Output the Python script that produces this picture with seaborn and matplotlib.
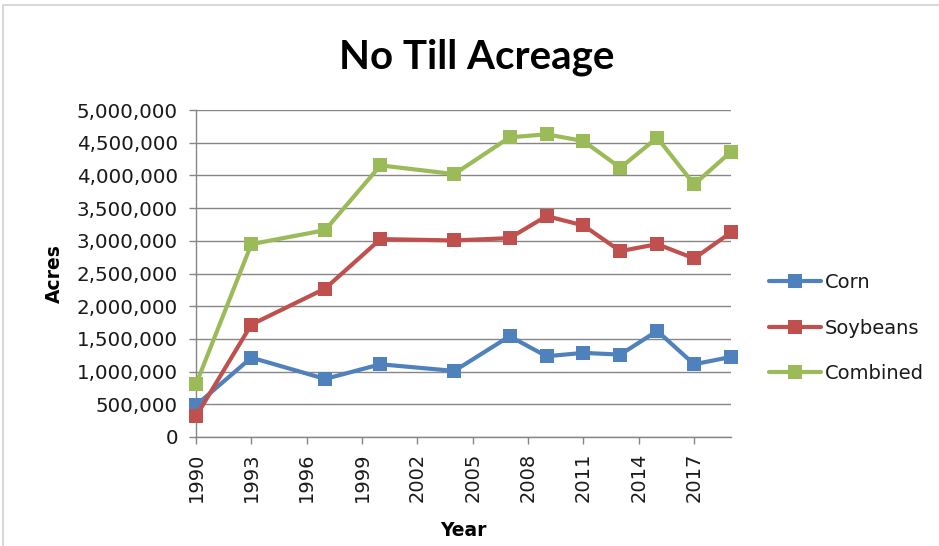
import matplotlib
matplotlib.use("Agg")
import matplotlib.pyplot as plt
import matplotlib.ticker as mticker
from matplotlib.patches import Rectangle
import seaborn as sns
import pandas as pd

years = [1990, 1993, 1997, 2000, 2004, 2007, 2009, 2011, 2013, 2015, 2017, 2019]
corn = [485000, 1214000, 888000, 1112000, 1010000, 1541000, 1235000, 1286000, 1260000, 1622000, 1112000, 1224000]
soybeans = [316000, 1719000, 2270000, 3026000, 3005000, 3041000, 3378000, 3235000, 2842000, 2949000, 2730000, 3128000]
combined = [806000, 2949000, 3163000, 4153000, 4020000, 4582000, 4628000, 4526000, 4117000, 4577000, 3862000, 4362000]
series_names = ["Corn", "Soybeans", "Combined"]
x_ticks = list(range(1990, 2018, 3))
y_ticks = list(range(0, 5000001, 500000))

colors = {"Corn": "#4F81BD", "Soybeans": "#C0504D", "Combined": "#9BBB59"}

df = pd.DataFrame({
    "Year": years * 3,
    "Acres": corn + soybeans + combined,
    "Series": [series_names[0]] * len(years) + [series_names[1]] * len(years) + [series_names[2]] * len(years),
})

sns.set_style("white")
plt.rcParams["font.family"] = ["DejaVu Sans"]
plt.rcParams["text.color"] = "black"

fig = plt.figure(figsize=(9.39, 5.46), dpi=100)
ax = fig.add_axes([196 / 939, 1 - 437 / 546, (731 - 196) / 939, (437 - 110) / 546])

sns.lineplot(data=df, x="Year", y="Acres", hue="Series", palette=colors,
             marker="s", markersize=9.5, markeredgewidth=0, linewidth=3,
             ax=ax, legend=True, clip_on=False, zorder=3)

ax.set_xlim(1990, 2019)
ax.set_ylim(0, 5000000)
ax.set_xticks(x_ticks)
ax.set_yticks(y_ticks)
ax.yaxis.set_major_formatter(mticker.FuncFormatter(lambda v, p: f"{int(v):,}"))
ax.tick_params(axis="x", labelrotation=90, labelsize=14, length=5, width=1,
               color="#868686", pad=6, direction="out", bottom=True)
ax.tick_params(axis="y", labelsize=14.3, length=5, width=1, color="#868686",
               pad=8, direction="out", left=True)
for lab in ax.get_xticklabels() + ax.get_yticklabels():
    lab.set_color("#1a1a1a")

ax.grid(axis="y", color="#868686", linewidth=1)
ax.grid(axis="x", visible=False)
for s in ["top", "right"]:
    ax.spines[s].set_visible(False)
for s in ["left", "bottom"]:
    ax.spines[s].set_color("#868686")
    ax.spines[s].set_linewidth(1)

ax.set_xlabel("Year", fontsize=13.5, fontweight="bold", labelpad=14, color="black")
ax.set_ylabel("Acres", fontsize=13.5, fontweight="bold", labelpad=9, color="black")

leg = ax.legend(loc="center left", bbox_to_anchor=(751 / 939, 1 - 328 / 546),
                bbox_transform=fig.transFigure, frameon=False, fontsize=14,
                handlelength=2.7, handletextpad=0.2, labelspacing=1.35)
for h in leg.legend_handles:
    h.set_linewidth(3)
    h.set_markersize(9.5)
for t in leg.get_texts():
    t.set_color("#1a1a1a")

fig.text(477 / 939, 1 - 68 / 546, "No Till Acreage", ha="center", va="baseline",
         fontsize=29, fontweight="bold", color="black", family=["Lato", "DejaVu Sans"])

fig.patches.append(Rectangle((3 / 939, -0.05), 1.05, 1 - 5 / 546 + 0.05,
                             transform=fig.transFigure, fill=False,
                             edgecolor="#D0D0D0", linewidth=1.2))

fig.savefig("out.png", dpi=100)
